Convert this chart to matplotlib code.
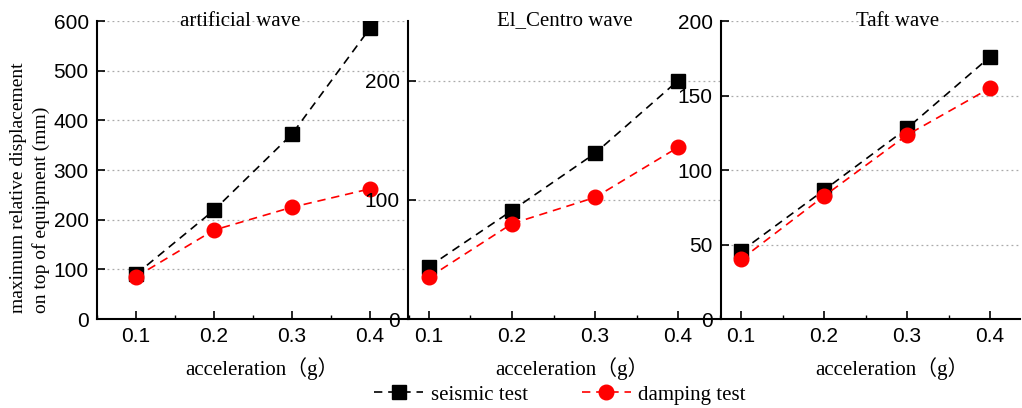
import numpy as np
import matplotlib
matplotlib.use('Agg')
import matplotlib.pyplot as plt
from matplotlib.ticker import MultipleLocator

# datos
accel = [0.1, 0.2, 0.3, 0.4]
titles = ['artificial wave', 'El_Centro wave', 'Taft wave']
seismic = [
    [90, 219, 372, 585],
    [44, 91, 139, 200],
    [45.5, 86.5, 128, 176],
]
damping = [
    [85, 179, 225, 262],
    [35, 80, 102, 144],
    [40, 82.5, 123.5, 155],
]
ylims = [600, 250, 200]
ymajor = [100, 100, 50]
xlims = [(0.05, 0.45), (0.0747, 0.4518), (0.0759, 0.436)]
title_x = [0.458, 0.5, 0.589]
xlabel_x = [0.529, 0.524, 0.572]

serif = ['Liberation Serif', 'Noto Sans CJK SC']
sans = 'Liberation Sans'
dash = (0, (5, 3.5))

fig = plt.figure(figsize=(10.22, 4.08), dpi=100)
bottom, top = 0.2181, 0.9485
boxes = [(0.0949, 0.400), (0.3992, 0.7055), (0.7055, 0.998)]

for i, (l, r) in enumerate(boxes):
    ax = fig.add_axes([l, bottom, r - l, top - bottom])
    ax.set_facecolor('none')
    ax.plot(accel, seismic[i], color='black', ls=dash, lw=1.2,
            marker='s', ms=9.5, zorder=3)
    ax.plot(accel, damping[i], color='red', ls=dash, lw=1.2,
            marker='o', ms=10.5, zorder=4)
    ax.set_xlim(*xlims[i])
    ax.set_ylim(0, ylims[i])
    ax.set_xticks(accel)
    ax.set_xticklabels(['0.1', '0.2', '0.3', '0.4'])
    ax.xaxis.set_minor_locator(MultipleLocator(0.05))
    ax.yaxis.set_major_locator(MultipleLocator(ymajor[i]))
    for s in ['top', 'right']:
        ax.spines[s].set_visible(False)
    for s in ['left', 'bottom']:
        ax.spines[s].set_linewidth(1.5)
    ax.tick_params(direction='in', length=6, width=1.2, labelsize=15, pad=6)
    ax.tick_params(which='minor', direction='in', length=3, width=1)
    for lab in ax.get_xticklabels() + ax.get_yticklabels():
        lab.set_fontfamily(sans)
    ax.grid(axis='y', ls=(0, (1.5, 2.5)), color='#aaaaaa', lw=0.9)
    ax.set_axisbelow(True)
    ax.text(title_x[i], 1.0, titles[i], transform=ax.transAxes, ha='center',
            va='center', fontsize=15, family=serif)
    ax.set_xlabel('acceleration（g）', fontsize=15, family=serif, labelpad=8)
    ax.xaxis.label.set_x(xlabel_x[i])
    if i == 0:
        ax.set_ylabel('maximum relative displacement\non top of equipment (mm)',
                      fontsize=14, family=serif, linespacing=1.4,
                      multialignment='left')
        ax.yaxis.set_label_coords(-0.15, 0.44)
        ax_first = ax

h1, = ax_first.plot([], [], color='black', ls=dash, lw=1.2,
                    marker='s', ms=9.5)
h2, = ax_first.plot([], [], color='red', ls=dash, lw=1.2,
                    marker='o', ms=10.5)
fig.legend([h1, h2], ['seismic test', 'damping test'], loc='center',
           bbox_to_anchor=(0.548, 0.032), ncol=2, frameon=False,
           prop={'family': serif, 'size': 15}, handlelength=2.35,
           columnspacing=2.6, handletextpad=0.35)

fig.savefig('out.png', dpi=100)
